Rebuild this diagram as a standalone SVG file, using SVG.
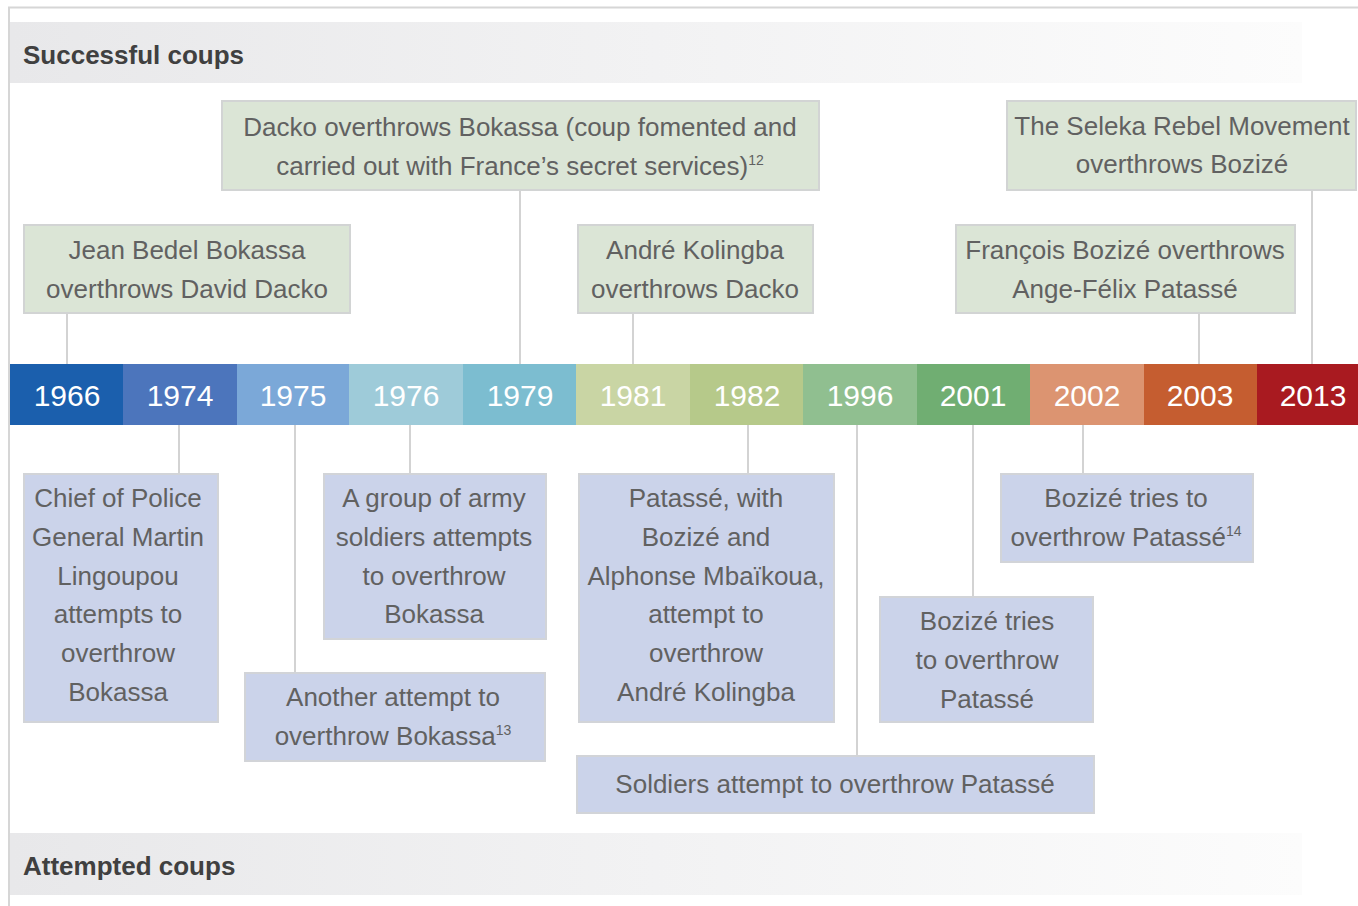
<svg xmlns="http://www.w3.org/2000/svg" width="1358" height="906" viewBox="0 0 1358 906">
<defs>
<linearGradient id="hdr" x1="0" y1="0" x2="1" y2="0">
<stop offset="0" stop-color="#e8e8ea"/>
<stop offset="1" stop-color="#fcfcfc"/>
</linearGradient>
<style>
.frame{stroke:#d6d6d6;stroke-width:2;fill:none}
.hd{font-family:"Liberation Sans",Arial,sans-serif;font-size:26px;font-weight:bold;fill:#404040}
.g{fill:#dbe5d6;stroke:#d2d4d4;stroke-width:2}
.b{fill:#cbd3ea;stroke:#d2d4d8;stroke-width:2}
.t{font-family:"Liberation Sans",Arial,sans-serif;font-size:26px;fill:#616161;text-anchor:middle}
.y{font-family:"Liberation Sans",Arial,sans-serif;font-size:30px;fill:#ffffff;text-anchor:middle}
.c{stroke:#d3d3d3;stroke-width:2;fill:none}
.sup{font-size:14px}
</style>
</defs>
<rect width="1358" height="906" fill="#ffffff"/>
<g id="frame">
<line class="frame" x1="8" y1="7.5" x2="1358" y2="7.5"/>
<line class="frame" x1="9" y1="7" x2="9" y2="906"/>
</g>
<g id="header-success">
<rect x="10" y="22" width="1292" height="61" fill="url(#hdr)"/>
<text class="hd" x="23" y="64">Successful coups</text>
</g>
<g id="header-attempted">
<rect x="10" y="833" width="1292" height="62" fill="url(#hdr)"/>
<text class="hd" x="23" y="875">Attempted coups</text>
</g>
<g id="connectors">
<line class="c" x1="520" y1="191" x2="520" y2="364"/>
<line class="c" x1="1312" y1="191" x2="1312" y2="364"/>
<line class="c" x1="67" y1="314" x2="67" y2="364"/>
<line class="c" x1="633" y1="314" x2="633" y2="364"/>
<line class="c" x1="1199" y1="314" x2="1199" y2="364"/>
<line class="c" x1="179" y1="425" x2="179" y2="473"/>
<line class="c" x1="295" y1="425" x2="295" y2="672"/>
<line class="c" x1="410" y1="425" x2="410" y2="473"/>
<line class="c" x1="748" y1="425" x2="748" y2="473"/>
<line class="c" x1="857" y1="425" x2="857" y2="755"/>
<line class="c" x1="973" y1="425" x2="973" y2="596"/>
<line class="c" x1="1083" y1="425" x2="1083" y2="473"/>
</g>
<g id="timeline">
<rect x="10" y="364" width="114" height="61" fill="#1b5fad"/>
<rect x="123" y="364" width="115" height="61" fill="#4c75bc"/>
<rect x="237" y="364" width="113" height="61" fill="#7ba8d8"/>
<rect x="349" y="364" width="115" height="61" fill="#9ecbd9"/>
<rect x="463" y="364" width="114" height="61" fill="#7cbdd0"/>
<rect x="576" y="364" width="115" height="61" fill="#c9d5a4"/>
<rect x="690" y="364" width="114" height="61" fill="#b6c98a"/>
<rect x="803" y="364" width="115" height="61" fill="#90bf90"/>
<rect x="917" y="364" width="114" height="61" fill="#70ae72"/>
<rect x="1030" y="364" width="115" height="61" fill="#dc9471"/>
<rect x="1144" y="364" width="114" height="61" fill="#c55d30"/>
<rect x="1257" y="364" width="101" height="61" fill="#a91a20"/>
<text class="y" x="67" y="406">1966</text>
<text class="y" x="180" y="406">1974</text>
<text class="y" x="293" y="406">1975</text>
<text class="y" x="406" y="406">1976</text>
<text class="y" x="520" y="406">1979</text>
<text class="y" x="633" y="406">1981</text>
<text class="y" x="747" y="406">1982</text>
<text class="y" x="860" y="406">1996</text>
<text class="y" x="973" y="406">2001</text>
<text class="y" x="1087" y="406">2002</text>
<text class="y" x="1200" y="406">2003</text>
<text class="y" x="1313" y="406">2013</text>
</g>
<g id="s1979">
<rect class="g" x="222" y="101" width="597" height="89"/>
<text class="t" x="520" y="136">Dacko overthrows Bokassa (coup fomented and</text>
<text class="t" x="520" y="175">carried out with France’s secret services)<tspan class="sup" dy="-10">12</tspan></text>
</g>
<g id="s2013">
<rect class="g" x="1007" y="101" width="349" height="89"/>
<text class="t" x="1182" y="135">The Seleka Rebel Movement</text>
<text class="t" x="1182" y="173">overthrows Bozizé</text>
</g>
<g id="s1966">
<rect class="g" x="24" y="225" width="326" height="88"/>
<text class="t" x="187" y="259">Jean Bedel Bokassa</text>
<text class="t" x="187" y="298">overthrows David Dacko</text>
</g>
<g id="s1981">
<rect class="g" x="578" y="225" width="235" height="88"/>
<text class="t" x="695" y="259">André Kolingba</text>
<text class="t" x="695" y="298">overthrows Dacko</text>
</g>
<g id="s2003">
<rect class="g" x="956" y="225" width="339" height="88"/>
<text class="t" x="1125" y="259">François Bozizé overthrows</text>
<text class="t" x="1125" y="298">Ange-Félix Patassé</text>
</g>
<g id="a1974">
<rect class="b" x="24" y="474" width="194" height="248"/>
<text class="t" x="118" y="507">Chief of Police</text>
<text class="t" x="118" y="546">General Martin</text>
<text class="t" x="118" y="585">Lingoupou</text>
<text class="t" x="118" y="623">attempts to</text>
<text class="t" x="118" y="662">overthrow</text>
<text class="t" x="118" y="701">Bokassa</text>
</g>
<g id="a1975">
<rect class="b" x="245" y="673" width="300" height="88"/>
<text class="t" x="393" y="706">Another attempt to</text>
<text class="t" x="393" y="745">overthrow Bokassa<tspan class="sup" dy="-10">13</tspan></text>
</g>
<g id="a1976">
<rect class="b" x="324" y="474" width="222" height="165"/>
<text class="t" x="434" y="507">A group of army</text>
<text class="t" x="434" y="546">soldiers attempts</text>
<text class="t" x="434" y="585">to overthrow</text>
<text class="t" x="434" y="623">Bokassa</text>
</g>
<g id="a1982">
<rect class="b" x="579" y="474" width="255" height="248"/>
<text class="t" x="706" y="507">Patassé, with</text>
<text class="t" x="706" y="546">Bozizé and</text>
<text class="t" x="706" y="585">Alphonse Mbaïkoua,</text>
<text class="t" x="706" y="623">attempt to</text>
<text class="t" x="706" y="662">overthrow</text>
<text class="t" x="706" y="701">André Kolingba</text>
</g>
<g id="a1996">
<rect class="b" x="577" y="756" width="517" height="57"/>
<text class="t" x="835" y="793">Soldiers attempt to overthrow Patassé</text>
</g>
<g id="a2001">
<rect class="b" x="880" y="597" width="213" height="125"/>
<text class="t" x="987" y="630">Bozizé tries</text>
<text class="t" x="987" y="669">to overthrow</text>
<text class="t" x="987" y="708">Patassé</text>
</g>
<g id="a2002">
<rect class="b" x="1001" y="474" width="252" height="88"/>
<text class="t" x="1126" y="507">Bozizé tries to</text>
<text class="t" x="1126" y="546">overthrow Patassé<tspan class="sup" dy="-10">14</tspan></text>
</g>
</svg>
